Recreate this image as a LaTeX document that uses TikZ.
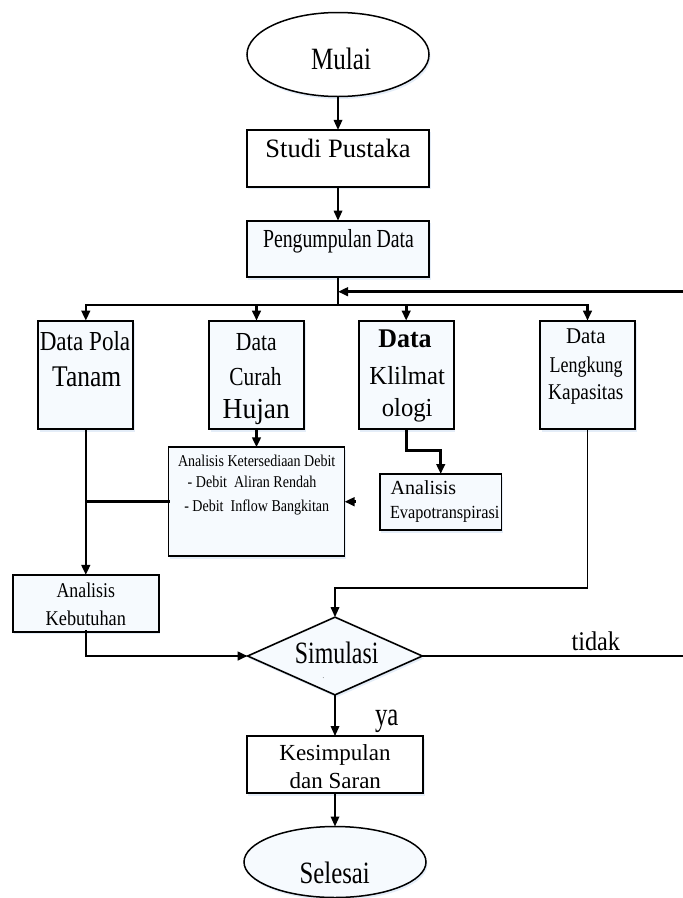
\documentclass[tikz,border=0pt]{standalone}
\usepackage{fontspec}
\setmainfont{Liberation Serif}
\usepackage{graphicx}
\usetikzlibrary{shapes.geometric,arrows.meta,shadows}
\definecolor{BoxFill}{RGB}{246,250,254}
\definecolor{ShadeBlue}{RGB}{228,237,248}
% size, horizontal squeeze, text
\newcommand{\sq}[3]{\scalebox{#2}[1]{\fontsize{#1}{#1}\selectfont #3}}

\begin{document}
\begin{tikzpicture}[x=1pt,y=-1pt,
    every node/.style={inner sep=0pt,outer sep=0pt},
    shade/.style={drop shadow={shadow xshift=1.5pt,shadow yshift=-2.5pt,fill=ShadeBlue,opacity=1}},
    box/.style={draw,rectangle,line width=1.8pt,fill=BoxFill,shade},
    term/.style={draw,ellipse,line width=1.5pt,fill=BoxFill,shade,minimum width=182pt},
    decide/.style={draw,diamond,line width=1.6pt,fill=BoxFill,shade},
    lbl/.style={anchor=base},
    lblw/.style={anchor=base west},
    conn/.style={line width=1.7pt},
    bus/.style={line width=2.6pt,line cap=rect},
    fwd/.style={-{Triangle[length=10pt,width=8.5pt]}}]
    \useasboundingbox (0,0) rectangle (683,898);

    % shapes
    \node[term,fill=white,minimum height=84pt] (mulai) at (338,54.5) {};
    \node[box,fill=white,minimum width=182.6pt,minimum height=56.7pt] (studi) at (338,158.3) {};
    \node[box,minimum width=182.6pt,minimum height=56.7pt] (peng) at (338,249) {};
    \foreach \n/\x in {pola/85.8,curah/256.5,klim/406.2,leng/587.5}
        \node[box,minimum width=95pt,minimum height=108.7pt] (\n) at (\x,375) {};
    \node[box,minimum width=176pt,minimum height=108.7pt] (ket) at (256.5,501.7) {};
    \node[box,minimum width=121.7pt,minimum height=56pt] (evapo) at (440.7,502) {};
    \node[box,minimum width=146.3pt,minimum height=56.7pt] (kebut) at (85.8,603.3) {};
    \node[decide,minimum width=174.7pt,minimum height=77.7pt] (sim) at (335,656) {};
    \node[box,fill=white,minimum width=176.7pt,minimum height=57.3pt] (kes) at (335,764.7) {};
    \node[term,minimum height=71pt] (sel) at (335,862) {};

    % texts
    \node[lbl] (mulaiT) at (341,69) {\sq{31}{.81}{Mulai}};
    \node[lbl] (studiT) at (338,157) {\sq{26.5}{1}{Studi Pustaka}};
    \node[lbl] (pengT) at (338.5,247.3) {\sq{26}{.76}{Pengumpulan Data}};
    \node[lbl] (pola1) at (85,350) {\sq{27.5}{.84}{Data Pola}};
    \node[lbl] (pola2) at (86.7,386.7) {\sq{30}{.85}{Tanam}};
    \node[lbl] (curah1) at (256.3,350) {\sq{26}{.83}{Data}};
    \node[lbl] (curah2) at (255.5,385) {\sq{26}{.82}{Curah}};
    \node[lbl] (curah3) at (256.3,418.3) {\sq{29}{.95}{Hujan}};
    \node[lbl] (klim1) at (405,347.3) {\sq{27}{.96}{\bfseries Data}};
    \node[lbl] (klim2) at (407.2,384) {\sq{26}{.95}{Klilmat}};
    \node[lbl] (klim3) at (407.2,416.7) {\sq{26}{.95}{ologi}};
    \node[lbl] (leng1) at (585.8,343.3) {\sq{22.5}{.93}{Data}};
    \node[lbl] (leng2) at (586,372.7) {\sq{22.5}{.8}{Lengkung}};
    \node[lbl] (leng3) at (585.8,399) {\sq{22.5}{.86}{Kapasitas}};
    \node[lbl] (ket1) at (256.7,466) {\sq{16.5}{.85}{Analisis Ketersediaan Debit}};
    \node[lbl] (ket2) at (252,487.3) {\sq{16.5}{.85}{- Debit\ \ Aliran Rendah}};
    \node[lbl] (ket3) at (256.7,511.7) {\sq{16.5}{.85}{- Debit\ \ Inflow Bangkitan}};
    \node[lblw] (evapo1) at (390.7,494) {\sq{20}{1}{Analisis}};
    \node[lblw] (evapo2) at (390,518.3) {\sq{18.5}{.88}{Evapotranspirasi}};
    \node[lbl] (kebut1) at (85.8,597.3) {\sq{21}{.85}{Analisis}};
    \node[lbl] (kebut2) at (85.8,625) {\sq{21}{.87}{Kebutuhan}};
    \node[lbl] (simT) at (336.7,663.3) {\sq{31}{.77}{Simulasi}};
    \node[lbl] (simDot) at (323.3,678.3) {\sq{6}{1}{.}};
    \node[lbl] (tidak) at (595.8,650) {\sq{27}{.9}{tidak}};
    \node[lbl] (ya) at (386.7,725) {\sq{33}{.75}{ya}};
    \node[lbl] (kes1) at (335,760) {\sq{23}{1}{Kesimpulan}};
    \node[lbl] (kes2) at (335.3,788.3) {\sq{23}{1}{dan Saran}};
    \node[lbl] (selT) at (334.7,883.3) {\sq{31}{.8}{Selesai}};

    % connectors
    \coordinate (busL) at (85.8,305);
    \coordinate (busR) at (587.5,305);
    \coordinate (fbT) at (683,291.7);
    \coordinate (fbR) at (683,656);
    \coordinate (lone) at (355,501.7);
    \coordinate (lengBend) at (587.5,588.3);

    \draw[conn,fwd] (mulai) -- (studi);
    \draw[conn,fwd] (studi) -- (peng);
    \draw[bus] (peng.south) -- (peng.south |- busL);
    \draw[bus] (busL) -- (busR);
    \foreach \n in {pola,curah,klim,leng}
        \draw[bus,fwd] (\n.north |- busL) -- (\n.north);
    \draw[bus,fwd] (fbT) -- (fbT -| peng.south);
    \draw[bus,fwd] (pola.south) -- (kebut.north);
    \draw[bus] (ket.west) -- (ket.west -| pola.south);
    \draw[bus,fwd] (curah.south) -- (ket.north);
    \draw[bus,fwd] (klim.south) -- ++(0,21) -| (evapo.north);
    \draw[bus,fwd] (lone) -- (lone -| ket.east);
    \draw[conn,fwd] (leng.south) -- (lengBend) -| (sim.north);
    \draw[bus,fwd] (kebut.south) |- (sim.west);
    \draw[conn] (sim.east) -- (fbR);
    \draw[conn,fwd] (sim.south) -- (kes.north);
    \draw[conn,fwd] (kes.south) -- (sel.north);
\end{tikzpicture}
\end{document}
